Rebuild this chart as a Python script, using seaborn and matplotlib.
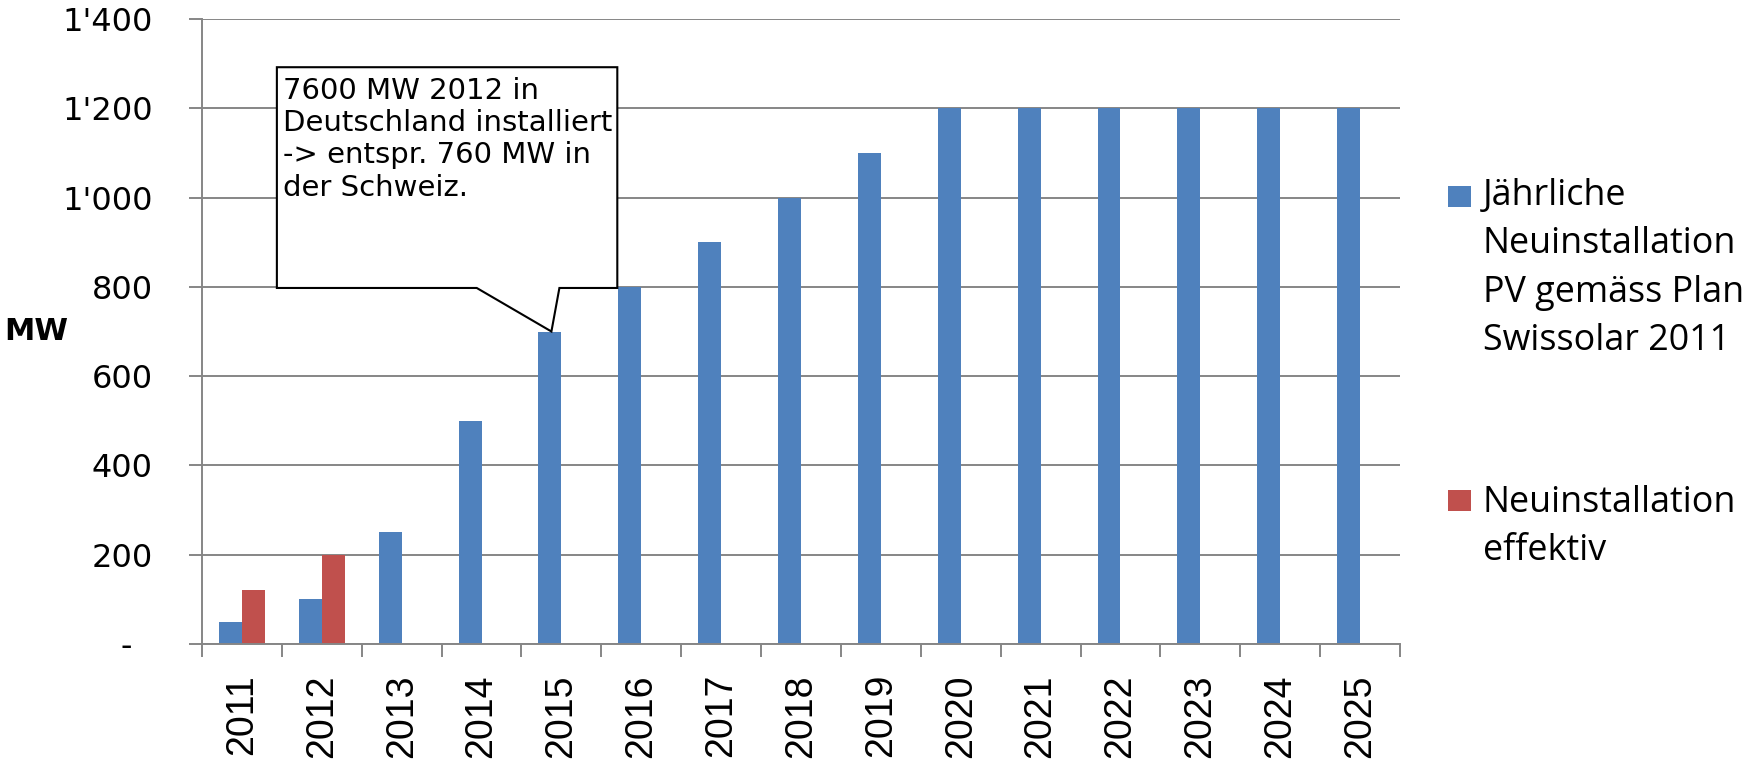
import numpy as np
import pandas as pd
import seaborn as sns
import matplotlib.pyplot as plt
from matplotlib.patches import Polygon, Rectangle

# data
years = ['2011', '2012', '2013', '2014', '2015', '2016', '2017', '2018',
         '2019', '2020', '2021', '2022', '2023', '2024', '2025']
plan_mw = [50, 100, 250, 500, 700, 800, 900, 1000, 1100, 1200, 1200, 1200, 1200, 1200, 1200]
eff_years = ['2011', '2012']
eff_mw = [120, 200]

series_plan = 'Jährliche\nNeuinstallation\nPV gemäss Plan\nSwissolar 2011'
series_eff = 'Neuinstallation\neffektiv'
colors = ['#4F81BD', '#C0504D']

y_ticks = [0, 200, 400, 600, 800, 1000, 1200, 1400]
y_tick_labels = ['-  ', '200', '400', '600', '800', "1'000", "1'200", "1'400"]

note = ('7600 MW 2012 in\nDeutschland installiert\n'
        '-> entspr. 760 MW in\nder Schweiz.')

df = pd.concat([
    pd.DataFrame({'Jahr': years, 'MW': plan_mw, 'Serie': series_plan}),
    pd.DataFrame({'Jahr': eff_years, 'MW': eff_mw, 'Serie': series_eff}),
])

W, H = 1748, 764
fig = plt.figure(figsize=(W / 100, H / 100), dpi=100)
ax = fig.add_axes([202 / W, 1 - 644 / H, 1198 / W, 625 / H])

grey = '#868686'

sns.barplot(data=df, x='Jahr', y='MW', hue='Serie', order=years,
            hue_order=[series_plan, series_eff], palette=colors,
            width=0.575, saturation=1, linewidth=0, errorbar=None,
            legend=False, ax=ax, zorder=2)

ax.set_xlim(-0.5, len(years) - 0.5)
ax.set_ylim(0, 1400)

# grid and spines
ax.set_yticks(y_ticks)
ax.set_yticklabels(y_tick_labels, fontsize=23, family='DejaVu Sans')
ax.yaxis.grid(True, color=grey, linewidth=1.4, zorder=0)
ax.set_axisbelow(True)
for s in ['top', 'right']:
    ax.spines[s].set_visible(False)
for s in ['left', 'bottom']:
    ax.spines[s].set_color(grey)
    ax.spines[s].set_linewidth(1.4)
ax.tick_params(axis='y', length=9.4, width=1.4, color=grey, pad=26)

ax.set_xticks(range(len(years)))
ax.set_xticklabels(years, rotation=90, fontsize=27, family='Liberation Sans')
ax.set_xticks(np.arange(-0.5, len(years)), minor=True)
ax.tick_params(axis='x', which='major', length=0, pad=21.6)
ax.tick_params(axis='x', which='minor', length=9.4, width=1.4, color=grey)
ax.set_xlabel('')

ax.set_ylabel('MW', rotation=0, fontsize=22, fontweight='bold',
              family='DejaVu Sans', ha='center', va='center')
ax.yaxis.set_label_coords(-0.138, 0.5)

# callout box pointing to the 2015 bar
i15 = years.index('2015')
tip = (i15 - 0.125, plan_mw[i15])
callout = Polygon([(0.4375, 1292), (4.7, 1292), (4.7, 797.5), (3.975, 797.5),
                   tip, (2.94, 797.5), (0.4375, 797.5)],
                  closed=True, facecolor='white', edgecolor='black',
                  linewidth=1.5, zorder=5)
ax.add_patch(callout)
ax.text(0.51, 1270, note, fontsize=21, family='DejaVu Sans', va='top',
        ha='left', linespacing=1.19, zorder=6)

# legend, drawn Excel-style with the marker at the first line
# (y of marker top, y of the last text baseline, in pixels from the top)
leg = [(series_plan, colors[0], 186, 350), (series_eff, colors[1], 490, 560)]
for label, col, y_top, y_base in leg:
    fig.add_artist(Rectangle((1448 / W, 1 - (y_top + 21) / H), 23 / W, 21 / H,
                             transform=fig.transFigure, facecolor=col,
                             edgecolor='none'))
    fig.text(1483 / W, 1 - y_base / H, label, fontsize=25.8,
             family='Open Sans', va='baseline', ha='left', linespacing=1.46)

fig.savefig('out.png', dpi=100)
